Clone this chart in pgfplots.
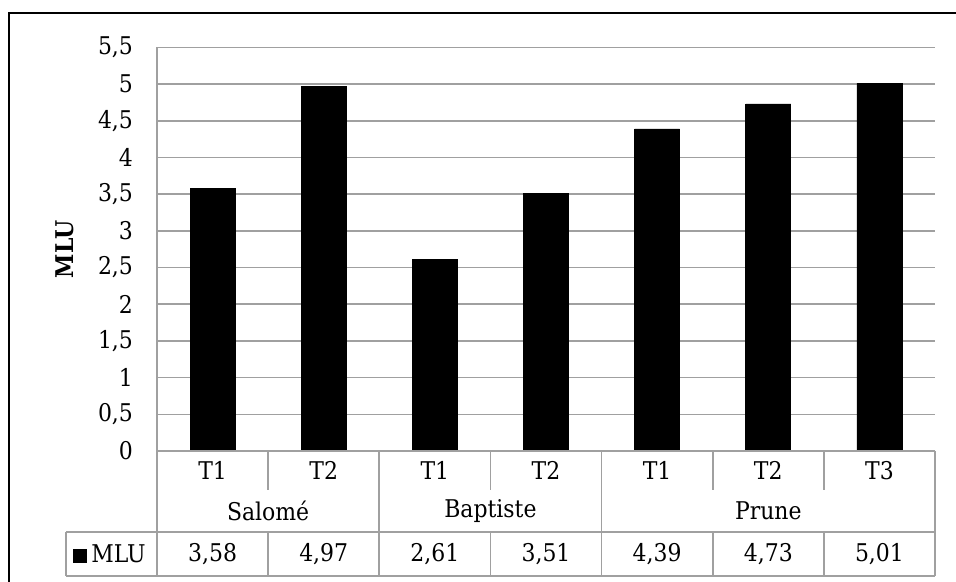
\documentclass[border=0pt]{standalone}
\usepackage{pgfplots}
\pgfplotsset{compat=1.18}
\usepackage{fontspec}
\setmainfont{DejaVu Serif Condensed}
\definecolor{gridgray}{RGB}{160,160,160}
\newcommand{\chartfont}{\fontsize{12.2pt}{15pt}\selectfont}
\begin{document}
\begin{tikzpicture}[x=1pt, y=1pt, font=\chartfont]
\useasboundingbox (-78.5,-65.5) rectangle (399.5,225.5);
\begin{axis}[
  at={(0pt,0pt)}, anchor=south west,
  scale only axis,
  width=389pt, height=201.75pt,
  xmin=-0.5, xmax=6.5,
  ymin=0, ymax=5.5,
  ytick={0,0.5,...,5.5},
  xtick=\empty,
  ymajorgrids,
  grid style={draw=gridgray, line width=0.8pt},
  axis line style={draw=none},
  major tick length=0pt,
  /pgf/number format/assume math mode=true,
  /pgf/number format/use comma,
  yticklabel style={font=\chartfont, xshift=-8.5pt},
  ylabel={\textbf{MLU}},
  every axis y label/.style={at={(axis description cs:-0.118,0.5)}, rotate=90, anchor=center, font=\chartfont},
  clip=false,
]
\addplot[ybar, bar width=22.5pt, fill=black, draw=black] coordinates {
  (0,3.58) (1,4.97) (2,2.61) (3,3.51) (4,4.39) (5,4.73) (6,5.01)
};
\end{axis}
% outer border (cropped at right and bottom)
\draw[black, line width=1pt] (-73.75,-70) -- (-73.75,219) -- (405,219);
% data table
\begin{scope}[draw=gridgray, line width=0.8pt]
  \draw (0,201.75) -- (0,-62.5);
  \draw (0,0) -- (389,0);
  \foreach \i in {1,3,5,6} {
    \draw (\i*55.5714,0) -- (\i*55.5714,-19.5);
    \draw (\i*55.5714,-40.5) -- (\i*55.5714,-62.5);
  }
  \foreach \i in {2,4,7} {
    \draw (\i*55.5714,0) -- (\i*55.5714,-62.5);
  }
  \draw (-45.5,-40.5) -- (389,-40.5);
  \draw (-45.5,-62.5) -- (389,-62.5);
  \draw (-45.5,-40.5) -- (-45.5,-62.5);
\end{scope}
\foreach \lab [count=\i from 0] in {T1,T2,T1,T2,T1,T2,T3} {
  \node at ({(\i+0.5)*55.5714},-9.75) {\lab};
}
\node at (55.5714,-30) {Salomé};
\node at (166.714,-30) {Baptiste};
\node at (305.643,-30) {Prune};
\foreach \v [count=\i from 0] in {3{,}58,4{,}97,2{,}61,3{,}51,4{,}39,4{,}73,5{,}01} {
  \node at ({(\i+0.5)*55.5714},-51.5) {\v};
}
\node[anchor=west, inner sep=0pt] at (-42,-51.5) {\rule{7pt}{7pt}\,MLU};
\end{tikzpicture}
\end{document}
